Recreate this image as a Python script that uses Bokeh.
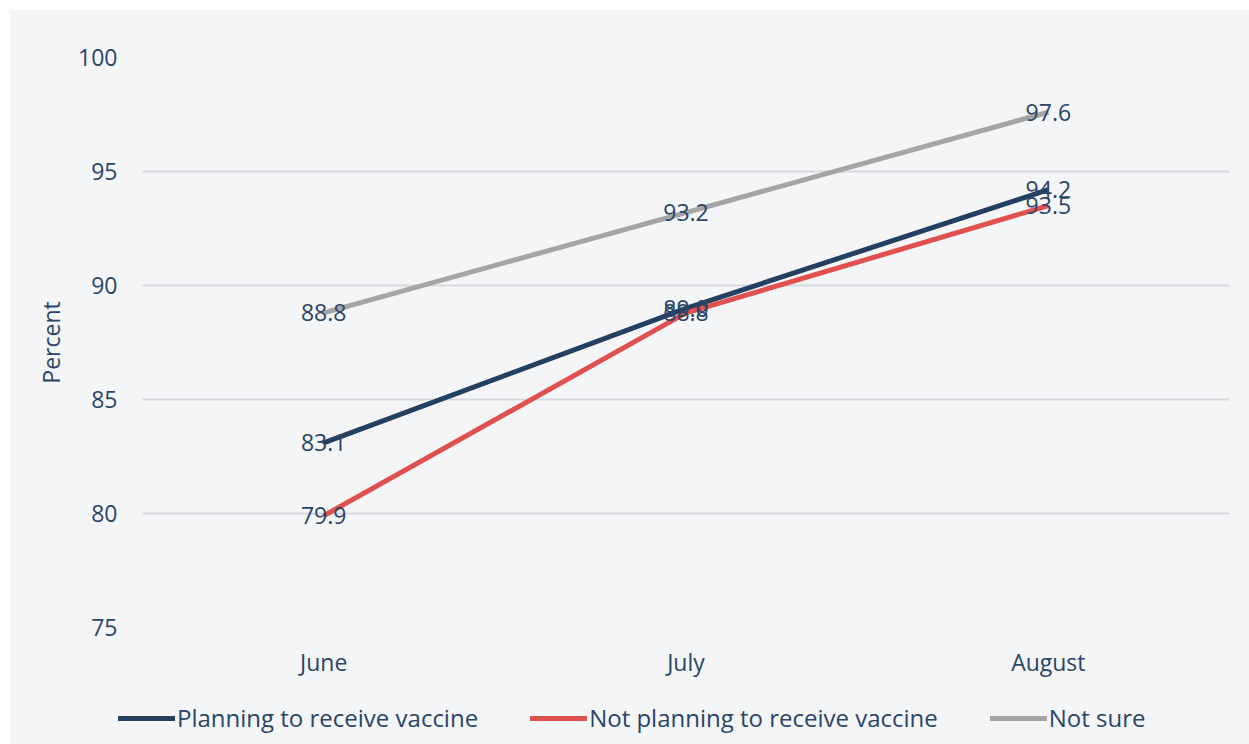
from bokeh.plotting import figure
from bokeh.models import ColumnDataSource, Legend, LegendItem, Range1d, FactorRange, Spacer
from bokeh.layouts import column, row
from bokeh.embed import file_html
from bokeh.resources import INLINE
from bokeh.core.properties import value

# Survey months
months = ["June", "July", "August"]

# Percent by vaccination plan
planning = [83.1, 89.0, 94.2]
not_planning = [79.9, 88.8, 93.5]
not_sure = [88.8, 93.2, 97.6]

series_names = ["Planning to receive vaccine", "Not planning to receive vaccine", "Not sure"]
series_values = [planning, not_planning, not_sure]
series_colors = ["#243f60", "#e0504e", "#a5a5a5"]

y_ticks = [75, 80, 85, 90, 95, 100]

FONT = "Open Sans"
TEXT_COLOR = "#2b4566"
BG = "#f3f5f7"

p = figure(
    width=1239, height=680,
    x_range=FactorRange(*months), y_range=Range1d(75, 100),
    output_backend="svg", toolbar_location=None,
    background_fill_color=None, border_fill_color=BG,
    min_border_left=132, min_border_right=20,
    min_border_top=47, min_border_bottom=63,
)
p.outline_line_color = None

# axes
p.xaxis.axis_line_color = None
p.yaxis.axis_line_color = None
p.xaxis.major_tick_line_color = None
p.yaxis.major_tick_line_color = None
p.xaxis.minor_tick_line_color = None
p.yaxis.minor_tick_line_color = None
p.yaxis.ticker = y_ticks
for ax in (p.xaxis, p.yaxis):
    ax.major_label_text_font = FONT
    ax.major_label_text_font_size = "23px"
    ax.major_label_text_color = TEXT_COLOR
p.xaxis.major_label_standoff = 12
p.yaxis.major_label_standoff = 19
p.yaxis.axis_label = "Percent"
p.yaxis.axis_label_text_font = FONT
p.yaxis.axis_label_text_font_size = "23px"
p.yaxis.axis_label_text_font_style = "normal"
p.yaxis.axis_label_text_color = TEXT_COLOR
p.yaxis.axis_label_standoff = 8

p.xgrid.grid_line_color = None
p.ygrid.grid_line_color = "#d7dadd"
p.ygrid.grid_line_width = 2

for vals, color in zip(series_values, series_colors):
    p.line(months, vals, line_color=color, line_width=5)

# data labels drawn on top of all lines
for vals in series_values:
    src = ColumnDataSource(dict(x=months, y=vals, label=[f"{v:.1f}" for v in vals]))
    p.text("x", "y", text="label", source=src,
           text_font=value(FONT), text_font_size="23px", text_color=TEXT_COLOR,
           text_align="center", text_baseline="middle")

# legend strip under the chart; its lines sit outside the visible ranges
leg = figure(
    width=1239, height=54, x_range=Range1d(0, 1), y_range=Range1d(0, 1),
    output_backend="svg", toolbar_location=None,
    background_fill_color=None, border_fill_color=BG,
    min_border=0, min_border_left=0, min_border_right=0,
    min_border_top=0, min_border_bottom=0,
)
leg.outline_line_color = None
leg.axis.visible = False
leg.grid.visible = False

items = []
for name, color in zip(series_names, series_colors):
    r = leg.line([5, 6], [5, 6], line_color=color, line_width=5, line_cap="round")
    items.append(LegendItem(label=name, renderers=[r]))

legend = Legend(
    items=items, orientation="horizontal", location=(108, 10),
    background_fill_alpha=0, border_line_color=None,
    padding=0, margin=0, spacing=52, label_standoff=2,
    glyph_width=57, glyph_height=20, label_height=20,
    label_text_font=FONT, label_text_font_size="24px", label_text_color=TEXT_COLOR,
)
leg.add_layout(legend, "center")

panel = column(p, row(leg), styles={"background-color": BG})
layout = column(Spacer(height=10), row(Spacer(width=10), panel))

open("out.html", "w").write(file_html(layout, INLINE))
